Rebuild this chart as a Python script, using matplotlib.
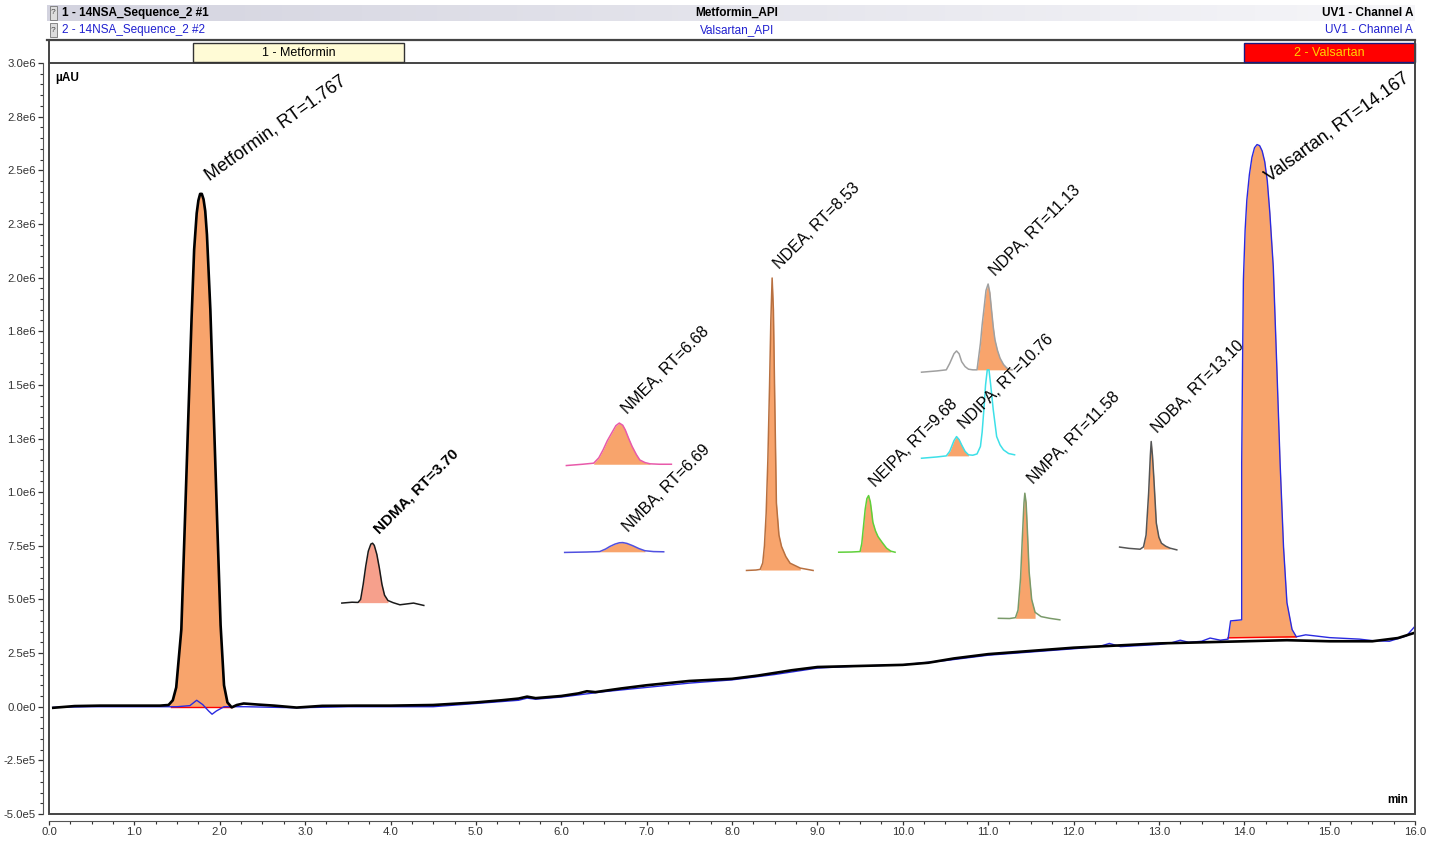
import numpy as np
import matplotlib
matplotlib.use("Agg")
import matplotlib.pyplot as plt
from matplotlib.patches import Rectangle
from matplotlib.colors import LinearSegmentedColormap
from matplotlib.ticker import MultipleLocator, FormatStrFormatter

plt.rcParams['font.family'] = ['Liberation Sans', 'DejaVu Sans']

# ---- main traces (time in min, signal in 1e6 uAU) ----
black_t = [0.05, 0.3, 0.6, 1.0, 1.3, 1.40, 1.45, 1.49, 1.55, 1.59, 1.63, 1.67, 1.70,
           1.73, 1.75, 1.77, 1.79, 1.81, 1.83, 1.85, 1.89, 1.93, 1.97, 2.01, 2.05,
           2.09, 2.14, 2.20, 2.28, 2.45, 2.64, 2.9, 3.2, 3.6, 4.0, 4.5, 5.0, 5.3,
           5.5, 5.6, 5.7, 6.0, 6.2, 6.3, 6.4, 6.7, 7.0, 7.5, 8.0, 8.3, 8.7, 9.0,
           9.5, 10.0, 10.3, 10.6, 11.0, 11.5, 12.0, 12.5, 13.0, 13.5, 14.0, 14.5,
           15.0, 15.5, 15.8, 16.0]
black_v = [-0.005, 0.003, 0.005, 0.005, 0.005, 0.008, 0.03, 0.09, 0.36, 0.84, 1.33,
           1.81, 2.13, 2.30, 2.36, 2.39, 2.39, 2.365, 2.31, 2.20, 1.85, 1.36, 0.86,
           0.38, 0.10, 0.02, -0.003, 0.008, 0.015, 0.01, 0.005, -0.004, 0.004,
           0.005, 0.005, 0.008, 0.02, 0.03, 0.038, 0.047, 0.04, 0.05, 0.062, 0.072,
           0.068, 0.085, 0.10, 0.12, 0.13, 0.145, 0.17, 0.185, 0.19, 0.195, 0.205,
           0.225, 0.245, 0.26, 0.275, 0.285, 0.295, 0.30, 0.305, 0.31, 0.305,
           0.305, 0.32, 0.345]

blue_t = [0.05, 0.5, 1.0, 1.5, 1.65, 1.73, 1.80, 1.87, 1.91, 1.96, 2.05, 2.3, 2.9,
          3.5, 4.5, 5.0, 5.5, 5.6, 5.7, 6.0, 6.3, 6.5, 7.0, 7.5, 8.0, 8.5, 9.0, 9.5,
          10.0, 10.5, 11.0, 11.5, 12.0, 12.3, 12.42, 12.55, 13.0, 13.15, 13.25, 13.35,
          13.5, 13.6, 13.72, 13.81, 13.84, 13.97, 13.97, 13.98, 13.99, 14.01, 14.03,
          14.06, 14.09, 14.12, 14.15, 14.18, 14.21, 14.24, 14.27, 14.30, 14.34,
          14.38, 14.42, 14.46, 14.50, 14.56, 14.61, 14.72, 14.83, 15.0, 15.2, 15.35,
          15.5, 15.7, 15.9, 16.0]
blue_v = [-0.003, 0.0, 0.0, 0.0, 0.005, 0.03, 0.01, -0.02, -0.035, -0.02, 0.0, 0.0,
          -0.005, 0.0, 0.0, 0.015, 0.03, 0.04, 0.035, 0.045, 0.06, 0.07, 0.09, 0.11,
          0.125, 0.15, 0.18, 0.19, 0.195, 0.215, 0.24, 0.255, 0.27, 0.28, 0.295, 0.28,
          0.29, 0.298, 0.31, 0.30, 0.305, 0.32, 0.31, 0.315, 0.40, 0.405, 1.135, 1.60,
          1.99, 2.22, 2.36, 2.48, 2.56, 2.605, 2.62, 2.615, 2.59, 2.54, 2.45, 2.30,
          2.05, 1.60, 1.135, 0.745, 0.485, 0.36, 0.326, 0.335, 0.33, 0.322, 0.318,
          0.315, 0.308, 0.305, 0.33, 0.375]

# ---- pasted impurity peaks ----
ndma_t = [3.43, 3.55, 3.62, 3.65, 3.68, 3.71, 3.74, 3.77, 3.79, 3.81, 3.84, 3.87,
          3.90, 3.93, 3.97, 4.03, 4.11, 4.27, 4.39]
ndma_v = [0.483, 0.487, 0.486, 0.50, 0.57, 0.655, 0.725, 0.758, 0.762, 0.752, 0.71,
          0.645, 0.57, 0.52, 0.495, 0.485, 0.475, 0.483, 0.472]
nmea_t = [6.06, 6.25, 6.38, 6.44, 6.49, 6.54, 6.59, 6.64, 6.68, 6.72, 6.75, 6.79,
          6.83, 6.88, 6.92, 6.98, 7.04, 7.15, 7.29]
nmea_v = [1.124, 1.13, 1.135, 1.16, 1.197, 1.24, 1.275, 1.31, 1.322, 1.312, 1.29,
          1.25, 1.213, 1.175, 1.15, 1.138, 1.132, 1.13, 1.13]
nmba_t = [6.04, 6.30, 6.45, 6.52, 6.57, 6.63, 6.68, 6.72, 6.77, 6.84, 6.91, 6.98,
          7.08, 7.20]
nmba_v = [0.719, 0.721, 0.723, 0.735, 0.747, 0.758, 0.764, 0.765, 0.761, 0.75,
          0.737, 0.727, 0.723, 0.722]
ndea_t = [8.17, 8.28, 8.33, 8.36, 8.38, 8.40, 8.42, 8.44, 8.455, 8.47, 8.485, 8.50,
          8.52, 8.55, 8.58, 8.63, 8.68, 8.80, 8.95]
ndea_v = [0.635, 0.637, 0.64, 0.67, 0.75, 0.90, 1.15, 1.50, 1.80, 1.998, 1.85, 1.45,
          0.95, 0.80, 0.747, 0.70, 0.669, 0.646, 0.635]
neipa_t = [9.25, 9.40, 9.50, 9.52, 9.54, 9.56, 9.58, 9.60, 9.62, 9.635, 9.65, 9.68,
           9.71, 9.76, 9.81, 9.86, 9.91]
neipa_v = [0.72, 0.721, 0.723, 0.76, 0.84, 0.92, 0.97, 0.984, 0.955, 0.91, 0.86,
           0.82, 0.793, 0.765, 0.739, 0.725, 0.72]
ndipa_t = [10.22, 10.40, 10.51, 10.55, 10.60, 10.63, 10.66, 10.69, 10.73, 10.77,
           10.82, 10.87, 10.91, 10.93, 10.95, 10.97, 10.99, 11.01, 11.03, 11.06,
           11.10, 11.14, 11.18, 11.24, 11.31]
ndipa_v = [1.158, 1.164, 1.169, 1.19, 1.24, 1.259, 1.245, 1.22, 1.19, 1.174, 1.172,
           1.178, 1.213, 1.28, 1.384, 1.50, 1.57, 1.57, 1.50, 1.384, 1.259, 1.22,
           1.197, 1.18, 1.174]
ndpa_t = [10.22, 10.40, 10.51, 10.55, 10.60, 10.63, 10.66, 10.69, 10.73, 10.77,
          10.82, 10.87, 10.91, 10.93, 10.95, 10.975, 11.00, 11.02, 11.04, 11.06,
          11.08, 11.11, 11.14, 11.18, 11.22, 11.28]
ndpa_v = [1.559, 1.565, 1.57, 1.60, 1.645, 1.658, 1.645, 1.608, 1.585, 1.573, 1.57,
          1.57, 1.694, 1.78, 1.849, 1.94, 1.97, 1.93, 1.849, 1.77, 1.71, 1.66, 1.624,
          1.595, 1.578, 1.57]
nmpa_t = [11.12, 11.25, 11.32, 11.35, 11.38, 11.40, 11.42, 11.43, 11.445, 11.46,
          11.48, 11.51, 11.55, 11.62, 11.72, 11.84]
nmpa_v = [0.412, 0.411, 0.415, 0.45, 0.60, 0.78, 0.95, 0.995, 0.95, 0.82, 0.63,
          0.50, 0.44, 0.42, 0.412, 0.405]
ndba_t = [12.54, 12.65, 12.78, 12.82, 12.85, 12.88, 12.90, 12.91, 12.925, 12.94,
          12.97, 13.00, 13.03, 13.08, 13.13, 13.21]
ndba_v = [0.744, 0.738, 0.734, 0.745, 0.80, 0.995, 1.17, 1.236, 1.17, 1.073, 0.856,
          0.79, 0.762, 0.748, 0.739, 0.731]

labels = ["NDMA, RT=3.70", "NMEA, RT=6.68", "NMBA, RT=6.69", "NDEA, RT=8.53",
          "NEIPA, RT=9.68", "NDIPA, RT=10.76", "NDPA, RT=11.13", "NMPA, RT=11.58",
          "NDBA, RT=13.10"]
label_t = [3.87, 6.78, 6.79, 8.56, 9.68, 10.73, 11.09, 11.53, 12.99]
label_v = [0.805, 1.36, 0.812, 2.035, 1.02, 1.29, 2.005, 1.035, 1.275]

y_ticklabels = ["-5.0e5", "-2.5e5", "0.0e0", "2.5e5", "5.0e5", "7.5e5", "1.0e6",
                "1.3e6", "1.5e6", "1.8e6", "2.0e6", "2.3e6", "2.5e6", "2.8e6", "3.0e6"]

ORANGE = '#F8A46C'
W, H = 1443, 841
PT = 0.72  # points per pixel at 100 dpi


def fx(x):
    return x / W


def fy(y):
    return 1 - y / H


fig = plt.figure(figsize=(W / 100, H / 100), dpi=100)
ax = fig.add_axes([fx(49), fy(814), fx(1415) - fx(49), fy(63) - fy(814)])

bt, bv = np.array(black_t), np.array(black_v)
ut, uv = np.array(blue_t), np.array(blue_v)

# integrated main peaks
m = (bt >= 1.40) & (bt <= 2.14)
ax.fill_between(bt[m], 0.0, bv[m], color=ORANGE, lw=0, zorder=1)
ax.plot([1.43, 2.14], [0.0, 0.0], color='red', lw=1, zorder=2)
m = (ut >= 13.81) & (ut <= 14.61)
ax.fill_between(ut[m], 0.322, uv[m], color=ORANGE, lw=0, zorder=1)
ax.plot([13.81, 14.61], [0.321, 0.326], color='red', lw=1, zorder=2)

ax.plot(ut, uv, color='#2a2ae0', lw=1.0, zorder=3)
ax.plot(bt, bv, color='black', lw=1.9, zorder=4)

# impurity insets: (t, v, line colour, fill colour, baseline, fill range)
insets = [
    (ndma_t, ndma_v, '#1a1a1a', '#F6A08C', 0.485, (3.60, 4.00)),
    (nmea_t, nmea_v, '#E85AAA', ORANGE, 1.13, (6.30, 7.05)),
    (nmba_t, nmba_v, '#5050E0', ORANGE, 0.722, (6.45, 6.98)),
    (ndea_t, ndea_v, '#B87040', ORANGE, 0.637, (8.30, 8.80)),
    (neipa_t, neipa_v, '#5FD03A', ORANGE, 0.721, (9.50, 9.90)),
    (ndipa_t, ndipa_v, '#3DE0E8', ORANGE, 1.169, (10.51, 10.80)),
    (ndpa_t, ndpa_v, '#A0A0A0', ORANGE, 1.57, (10.87, 11.28)),
    (nmpa_t, nmpa_v, '#7A9A6A', ORANGE, 0.412, (11.30, 11.60)),
    (ndba_t, ndba_v, '#555555', ORANGE, 0.735, (12.80, 13.13)),
]
for t, v, lc, fc, base, (a, b) in insets:
    t, v = np.array(t), np.array(v)
    m = (t >= a) & (t <= b)
    ax.fill_between(t[m], base, v[m], color=fc, lw=0, zorder=5)
    ax.plot(t, v, color=lc, lw=1.1, zorder=6)

for i, lab in enumerate(labels):
    ax.text(label_t[i], label_v[i], lab, rotation=45, rotation_mode='anchor',
            ha='left', va='baseline', fontsize=11.5 if i else 11,
            fontweight='bold' if i == 0 else 'normal', zorder=7)

ax.text(1.88, 2.45, "Metformin, RT=1.767", rotation=35.5, rotation_mode='anchor',
        ha='left', va='baseline', fontsize=13)
ax.text(14.30, 2.445, "Valsartan, RT=14.167", rotation=36, rotation_mode='anchor',
        ha='left', va='baseline', fontsize=13)

ax.text(0.0045, 0.988, "µAU", transform=ax.transAxes, ha='left', va='top',
        fontsize=8.5, fontweight='bold')
ax.text(0.995, 0.01, "min", transform=ax.transAxes, ha='right', va='bottom',
        fontsize=8.5, fontweight='bold')

# axes
ax.set_xlim(0, 16)
ax.set_ylim(-0.5, 3.0)
ax.xaxis.set_major_locator(MultipleLocator(1))
ax.xaxis.set_minor_locator(MultipleLocator(0.25))
ax.xaxis.set_major_formatter(FormatStrFormatter('%.1f'))
ax.set_yticks(np.arange(-0.5, 3.01, 0.25))
ax.set_yticklabels(y_ticklabels)
ax.yaxis.set_minor_locator(MultipleLocator(0.05))
ax.tick_params(which='both', labelsize=8.2, colors='#333333', direction='out')
ax.tick_params(axis='y', which='major', length=5 * PT, width=0.9, pad=2 * PT)
ax.tick_params(axis='y', which='minor', length=3 * PT, width=0.8)
ax.tick_params(axis='x', which='major', length=4 * PT, width=0.9, pad=2 * PT)
ax.tick_params(axis='x', which='minor', length=3 * PT, width=0.8)
ax.spines['left'].set_position(('outward', 6 * PT))
ax.spines['bottom'].set_position(('outward', 7 * PT))
for s in ('top', 'right'):
    ax.spines[s].set_visible(False)
for s in ('left', 'bottom'):
    ax.spines[s].set_color('#555555')
ax.add_patch(Rectangle((0, 0), 1, 1, transform=ax.transAxes, fill=False,
                       edgecolor='#444444', lw=1.4, clip_on=False, zorder=10))

# ---- header ----
hax = fig.add_axes([fx(47), fy(21), fx(1415) - fx(47), fy(5) - fy(21)])
cmap = LinearSegmentedColormap.from_list('hdr', ['#D3D3DF', '#F6F6F9'])
hax.imshow(np.linspace(0, 1, 256)[None, :], aspect='auto', cmap=cmap)
hax.axis('off')

for y, col, w, txt in [(13, 'black', 'bold', "1 - 14NSA_Sequence_2 #1"),
                       (30, '#2020D0', 'normal', "2 - 14NSA_Sequence_2 #2")]:
    fig.add_artist(Rectangle((fx(50), fy(y + 7)), fx(7), fy(0) - fy(14),
                             transform=fig.transFigure, facecolor='#DDDDDD',
                             edgecolor='#777777', lw=0.6))
    fig.text(fx(53.5), fy(y), "?", fontsize=6, ha='center', va='center', color='#444')
    fig.text(fx(62), fy(y), txt, fontsize=8.5, fontweight=w, color=col,
             ha='left', va='center')
fig.text(fx(737), fy(13), "Metformin_API", fontsize=8.5, fontweight='bold',
         ha='center', va='center')
fig.text(fx(737), fy(30), "Valsartan_API", fontsize=8.5, color='#2020D0',
         ha='center', va='center')
fig.text(fx(1413), fy(13), "UV1 - Channel A", fontsize=8.5, fontweight='bold',
         ha='right', va='center')
fig.text(fx(1413), fy(30), "UV1 - Channel A", fontsize=8.5, color='#2020D0',
         ha='right', va='center')

# peak-name band
fig.add_artist(plt.Line2D([fx(47), fx(1415)], [fy(40), fy(40)],
                          transform=fig.transFigure, color='#444444', lw=1.6))
for x in (49, 1415):
    fig.add_artist(plt.Line2D([fx(x), fx(x)], [fy(40), fy(63)],
                              transform=fig.transFigure, color='#444444', lw=1.4))
fig.add_artist(Rectangle((fx(193), fy(62)), fx(404) - fx(193), fy(43) - fy(62),
                         transform=fig.transFigure, facecolor='#FFFBD6',
                         edgecolor='#333333', lw=1.0))
fig.text(fx(298.5), fy(52.5), "1 - Metformin", fontsize=9, ha='center', va='center')
fig.add_artist(Rectangle((fx(1244), fy(62)), fx(1415) - fx(1244), fy(43) - fy(62),
                         transform=fig.transFigure, facecolor='#FF0000',
                         edgecolor='#1A1A80', lw=1.0))
fig.text(fx(1329.5), fy(52.5), "2 - Valsartan", fontsize=9, color='#FFD400',
         ha='center', va='center')

fig.savefig("out.png", dpi=100)
